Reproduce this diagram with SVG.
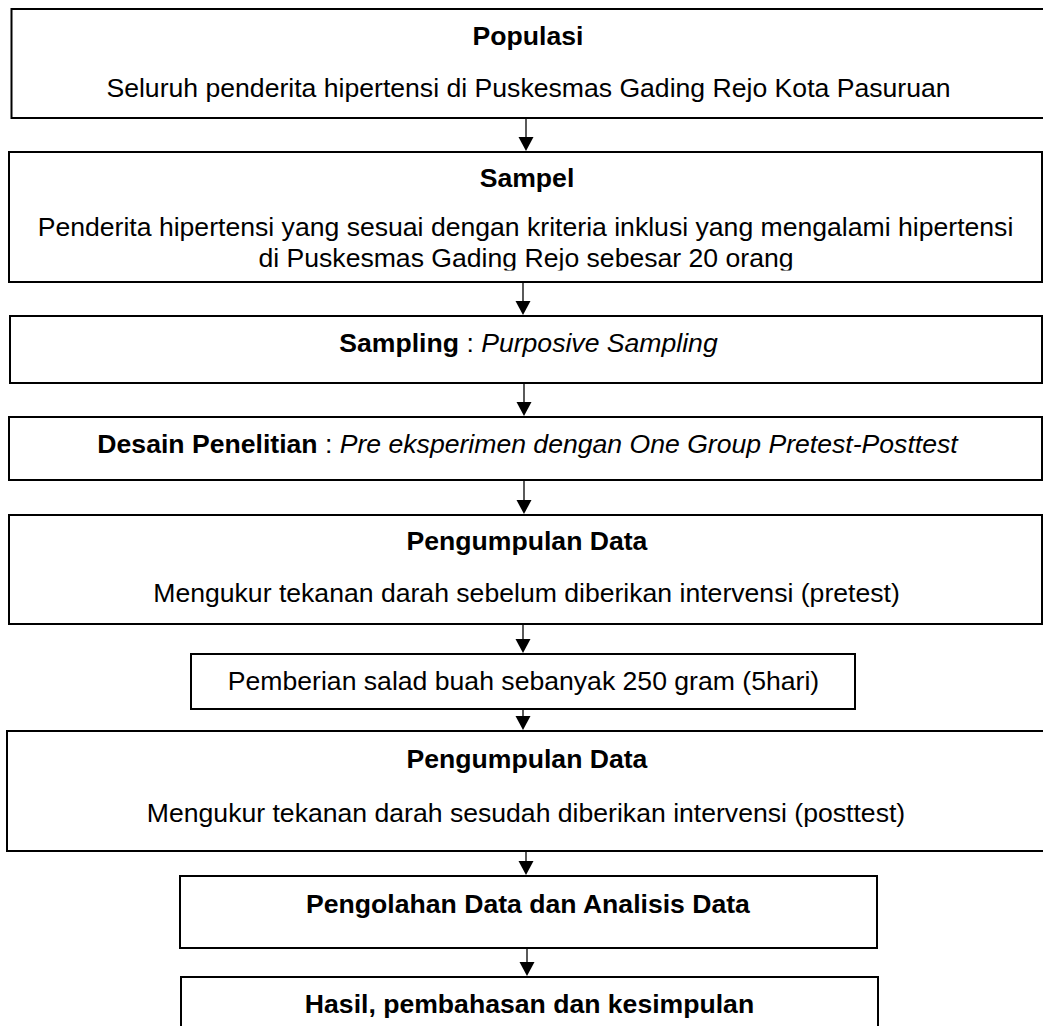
<svg xmlns="http://www.w3.org/2000/svg" width="1043" height="1026" viewBox="0 0 1043 1026">
<style>
.box{fill:#fff;stroke:#000;stroke-width:2}
text{font-family:"Liberation Sans",Arial,sans-serif;font-size:26.6px;fill:#000;text-anchor:middle}
.b{font-weight:bold}
.i{font-style:italic}
.c{stroke:#000;stroke-width:1.3;fill:none}
.h{fill:#000}
</style>
<defs>
<clipPath id="clip2"><rect x="0" y="150" width="1043" height="120.5"/></clipPath>
</defs>
<rect width="1043" height="1026" fill="#fff"/>
<g id="node-populasi">
<rect class="box" x="11.5" y="9" width="1060" height="109"/>
<text class="b" x="528" y="45">Populasi</text>
<text x="528.5" y="97">Seluruh penderita hipertensi di Puskesmas Gading Rejo Kota Pasuruan</text>
</g>
<g id="node-sampel">
<rect class="box" x="9" y="152" width="1033" height="130"/>
<text class="b" x="527" y="187">Sampel</text>
<g clip-path="url(#clip2)">
<text x="525.5" y="236">Penderita hipertensi yang sesuai dengan kriteria inklusi yang mengalami hipertensi</text>
<text x="526" y="267">di Puskesmas Gading Rejo sebesar 20 orang</text>
</g>
</g>
<g id="node-sampling">
<rect class="box" x="10" y="316" width="1032" height="67"/>
<text x="528.5" y="352"><tspan class="b">Sampling</tspan> : <tspan class="i">Purposive Sampling</tspan></text>
</g>
<g id="node-desain">
<rect class="box" x="9" y="417" width="1033" height="63"/>
<text x="527.5" y="453"><tspan class="b">Desain Penelitian</tspan> : <tspan class="i">Pre eksperimen dengan One Group Pretest-Posttest</tspan></text>
</g>
<g id="node-pengumpulan1">
<rect class="box" x="9" y="515" width="1033" height="109"/>
<text class="b" x="527" y="550">Pengumpulan Data</text>
<text x="526.5" y="602">Mengukur tekanan darah sebelum diberikan intervensi (pretest)</text>
</g>
<g id="node-pemberian">
<rect class="box" x="191" y="654" width="664" height="55"/>
<text x="523.5" y="690">Pemberian salad buah sebanyak 250 gram (5hari)</text>
</g>
<g id="node-pengumpulan2">
<rect class="box" x="7" y="731" width="1060" height="120"/>
<text class="b" x="527" y="768">Pengumpulan Data</text>
<text x="526" y="822">Mengukur tekanan darah sesudah diberikan intervensi (posttest)</text>
</g>
<g id="node-pengolahan">
<rect class="box" x="180" y="876" width="697" height="72"/>
<text class="b" x="528" y="913">Pengolahan Data dan Analisis Data</text>
</g>
<g id="node-hasil">
<rect class="box" x="181" y="977" width="697" height="80"/>
<text class="b" x="529.5" y="1013">Hasil, pembahasan dan kesimpulan</text>
</g>
<g id="connectors">
<line class="c" x1="526" y1="118" x2="526" y2="138"/><path class="h" d="M518.5,137 L533.5,137 L526,151 Z"/>
<line class="c" x1="523" y1="282" x2="523" y2="302"/><path class="h" d="M515.5,301 L530.5,301 L523,315 Z"/>
<line class="c" x1="524" y1="383" x2="524" y2="404"/><path class="h" d="M516.5,402 L531.5,402 L524,416 Z"/>
<line class="c" x1="524" y1="480" x2="524" y2="501"/><path class="h" d="M516.5,500 L531.5,500 L524,514 Z"/>
<line class="c" x1="523" y1="624" x2="523" y2="641"/><path class="h" d="M515.5,639 L530.5,639 L523,653 Z"/>
<line class="c" x1="523" y1="709" x2="523" y2="718"/><path class="h" d="M515.5,716 L530.5,716 L523,730 Z"/>
<line class="c" x1="526" y1="851" x2="526" y2="862"/><path class="h" d="M518.5,861 L533.5,861 L526,875 Z"/>
<line class="c" x1="527" y1="948" x2="527" y2="963"/><path class="h" d="M519.5,962 L534.5,962 L527,976 Z"/>
</g>
</svg>
